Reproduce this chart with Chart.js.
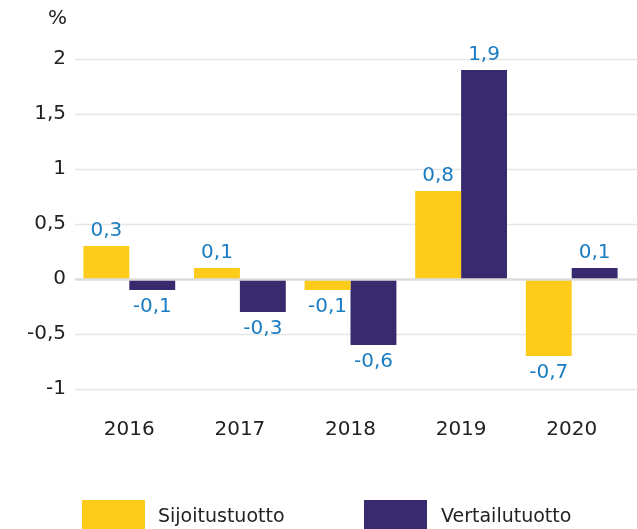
<!DOCTYPE html>
<html><head><meta charset="utf-8">
<script src="https://cdn.jsdelivr.net/npm/chart.js@4/dist/chart.umd.min.js"></script>
<style>html,body{margin:0;padding:0;background:#fff;}#wrap{width:637px;height:529px;}</style>
</head><body><div id="wrap"><canvas id="c" width="637" height="529"></canvas></div>
<script>
const categories = ["2016","2017","2018","2019","2020"];
const sijoitustuotto = [0.3, 0.1, -0.1, 0.8, -0.7];
const vertailutuotto = [-0.1, -0.3, -0.6, 1.9, 0.1];
const seriesNames = ["Sijoitustuotto","Vertailutuotto"];
const yTicks = [-1, -0.5, 0, 0.5, 1, 1.5, 2];
const unitLabel = "%";

const FONT = "'DejaVu Sans', sans-serif";
const YELLOW = "#FDCB1A", PURPLE = "#392A6F", BLUE = "#1A7CC1", TXT = "#222222";
const fmt = v => String(v).replace('.', ',');

const gridPlugin = {
  id: 'grid',
  beforeDatasetsDraw(chart) {
    const ctx = chart.ctx, y = chart.scales.y;
    ctx.save();
    yTicks.forEach(t => {
      if (t === 0) return;
      const py = Math.round(y.getPixelForValue(t)) + 0.5;
      ctx.strokeStyle = "#e6e6e6"; ctx.lineWidth = 1.5;
      ctx.beginPath(); ctx.moveTo(75, py); ctx.lineTo(chart.width, py); ctx.stroke();
    });
    ctx.restore();
  },
  afterDatasetsDraw(chart) {
    const ctx = chart.ctx, y = chart.scales.y;
    ctx.save();
    const py = y.getPixelForValue(0) + 0.5;
    ctx.strokeStyle = "#dcdcdc"; ctx.lineWidth = 2.5;
    ctx.beginPath(); ctx.moveTo(75, py); ctx.lineTo(chart.width, py); ctx.stroke();
    // data labels
    ctx.font = "20px " + FONT; ctx.fillStyle = BLUE; ctx.textAlign = "center"; ctx.textBaseline = "middle";
    chart.data.datasets.forEach((ds, i) => {
      chart.getDatasetMeta(i).data.forEach((el, j) => {
        const v = ds.data[j];
        const yy = v >= 0 ? el.y - 15 : el.y + 17;
        ctx.fillText(fmt(v), el.x, yy);
      });
    });
    ctx.restore();
  },
  afterDraw(chart) {
    const ctx = chart.ctx;
    ctx.save();
    ctx.font = "20px " + FONT; ctx.fillStyle = TXT; ctx.textAlign = "right"; ctx.textBaseline = "middle";
    ctx.fillText(unitLabel, 67, 19);
    // legend
    const items = [{x: 82, tx: 158}, {x: 364, tx: 441}];
    ctx.font = "19px " + FONT; ctx.textAlign = "left";
    chart.data.datasets.forEach((ds, i) => {
      ctx.fillStyle = ds.backgroundColor;
      ctx.fillRect(items[i].x, 500, 63, 29);
      ctx.fillStyle = TXT;
      ctx.fillText(ds.label, items[i].tx, 517);
    });
    ctx.restore();
  }
};

new Chart(document.getElementById('c'), {
  type: 'bar',
  data: {
    labels: categories,
    datasets: [
      {label: seriesNames[0], data: sijoitustuotto, backgroundColor: YELLOW},
      {label: seriesNames[1], data: vertailutuotto, backgroundColor: PURPLE}
    ]
  },
  options: {
    responsive: false, animation: false,
    devicePixelRatio: 1,
    layout: {padding: {top: 59, right: 10, left: 0, bottom: 0}},
    plugins: {legend: {display: false}, tooltip: {enabled: false}},
    datasets: {bar: {categoryPercentage: 0.83, barPercentage: 1.0}},
    scales: {
      x: {
        grid: {display: false, drawTicks: false}, border: {display: false},
        ticks: {color: TXT, font: {size: 20, family: FONT}, padding: 29, maxRotation: 0},
        afterFit(s) { s.height = 140; }
      },
      y: {
        min: -1, max: 2,
        grid: {display: false, drawTicks: false}, border: {display: false},
        afterBuildTicks(s) { s.ticks = yTicks.map(v => ({value: v})); },
        ticks: {color: TXT, font: {size: 20, family: FONT}, padding: 8, callback: v => fmt(v)},
        afterFit(s) { s.width = 74; }
      }
    }
  },
  plugins: [gridPlugin]
});
</script>
</body></html>
